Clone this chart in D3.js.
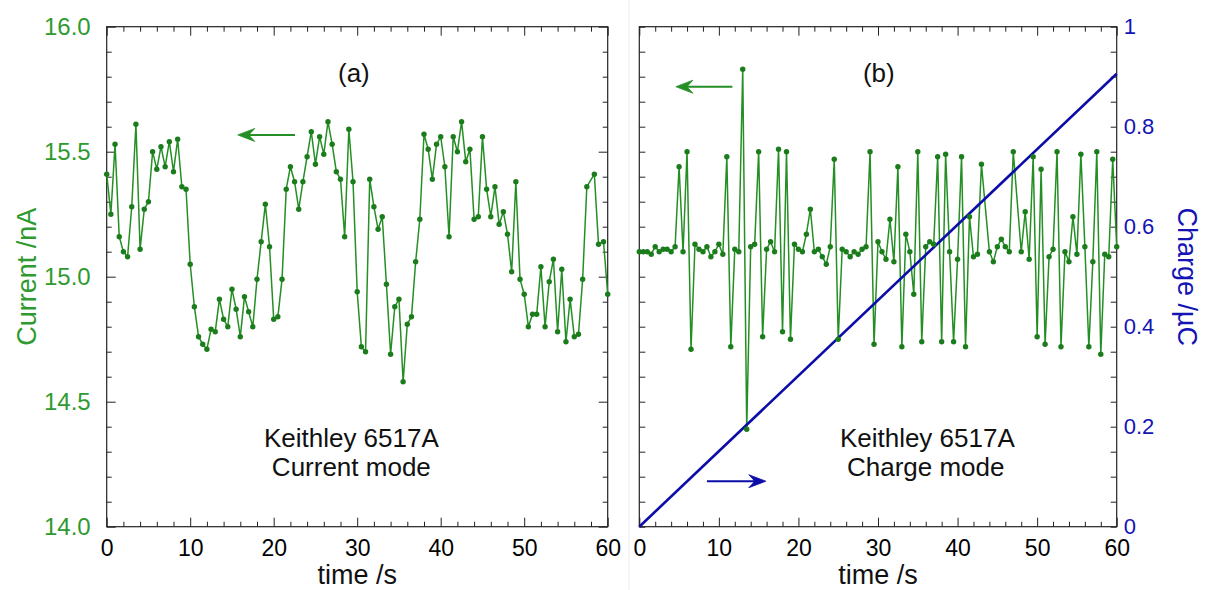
<!DOCTYPE html>
<html><head><meta charset="utf-8">
<script src="https://cdn.jsdelivr.net/npm/d3@7"></script>
<style>
body{margin:0;background:#fff}
svg{display:block}
text{font-family:"Liberation Sans",Arial,Helvetica,sans-serif}
</style>
</head><body>
<svg id="c" width="1207" height="590"></svg>
<script>
// ---------- data ----------
const timeA = [
 0,0.5,1,1.5,2,2.5,3,3.5,4,4.5,5,5.5,6,6.5,7,7.5,8,8.5,9,9.5,
 10,10.5,11,11.5,12,12.5,13,13.5,14,14.5,15,15.5,16,16.5,17,17.5,18,18.5,19,19.5,
 20,20.5,21,21.5,22,22.5,23,23.5,24,24.5,25,25.5,26,26.5,27,27.5,28,28.5,29,29.5,
 30,30.5,31,31.5,32,32.5,33,33.5,34,34.5,35,35.5,36,36.5,37,37.5,38,38.5,39,39.5,
 40,40.5,41,41.5,42,42.5,43,43.5,44,44.5,45,45.5,46,46.5,47,47.5,48,48.5,49,49.5,
 50,50.5,51,51.5,52,52.5,53,53.5,54,54.5,55,55.5,56,56.5,57,57.5,58.4,58.9,59.5,60];
const currentA = [
 15.41,15.25,15.53,15.16,15.10,15.08,15.28,15.61,15.11,15.27,15.30,15.50,15.43,15.52,15.44,15.54,15.42,15.55,15.36,15.35,
 15.05,14.88,14.76,14.73,14.71,14.79,14.78,14.91,14.83,14.80,14.95,14.87,14.76,14.92,14.86,14.80,14.99,15.14,15.29,15.12,
 14.83,14.84,14.99,15.35,15.44,15.38,15.27,15.38,15.48,15.58,15.45,15.56,15.49,15.62,15.53,15.42,15.39,15.16,15.59,15.38,
 14.94,14.72,14.70,15.39,15.28,15.19,15.24,14.97,14.69,14.88,14.91,14.58,14.81,14.84,15.06,15.23,15.57,15.51,15.39,15.53,
 15.56,15.44,15.16,15.56,15.50,15.62,15.46,15.51,15.23,15.24,15.56,15.35,15.24,15.36,15.21,15.26,15.17,15.02,15.38,14.99,
 14.93,14.80,14.85,14.85,15.04,14.80,14.98,15.07,14.78,15.03,14.74,14.91,14.76,14.77,14.99,15.36,15.41,15.13,15.14,14.93];

const timeB = [
 0,0.5,1,1.5,2,2.5,3,3.5,4,4.5,5,5.5,6,6.5,7,7.5,8,8.5,9,9.5,
 10,10.5,11,11.5,12,12.5,13,13.5,14,14.5,15,15.5,16,16.5,17,17.5,18,18.5,19,19.5,
 20,20.5,21,21.5,22,22.5,23,23.5,24,24.5,25,25.5,26,26.5,27,27.5,28,28.5,29,29.5,
 30,30.5,31,31.5,32,32.5,33,33.5,34,34.5,35,35.5,36,36.5,37,37.5,38,38.5,39,39.5,
 40,40.5,41,41.5,42,42.5,43,44,44.5,45,45.5,46,46.5,47,48,48.5,49,49.5,
 50,50.5,51,51.5,52,52.5,53,53.5,54,54.5,55,55.5,56,56.5,57,57.5,58,58.5,59,59.5,60];
const currentB = [
 15.10,15.10,15.10,15.09,15.12,15.10,15.11,15.11,15.10,15.12,15.44,15.10,15.50,14.71,15.13,15.11,15.10,15.12,15.08,15.10,
 15.13,15.09,15.48,14.72,15.11,15.10,15.83,14.39,15.12,15.13,15.50,14.76,15.11,15.14,15.10,15.51,14.78,15.50,14.75,15.13,
 15.11,15.10,15.17,15.27,15.10,15.11,15.08,15.05,15.12,15.47,14.75,15.11,15.10,15.08,15.10,15.09,15.11,15.12,15.50,14.73,
 15.14,15.10,15.07,15.23,15.06,15.44,14.72,15.17,15.10,14.93,15.50,14.74,15.12,15.14,15.13,15.48,14.74,15.49,15.10,14.74,
 15.07,15.48,14.72,15.24,15.08,15.09,15.45,15.10,15.06,15.12,15.15,15.12,15.10,15.50,15.10,15.26,15.07,15.48,
 14.76,15.43,14.73,15.08,15.11,15.50,14.72,15.10,15.06,15.24,15.09,15.49,15.12,14.72,15.06,15.50,14.69,15.09,15.08,15.47,15.12];

const chargeTime = [0, 60];
const chargeB = [0, 0.906];

const xMajorTicks = [0,10,20,30,40,50,60];
const xMinorTicks = [2,4,6,8,12,14,16,18,22,24,26,28,32,34,36,38,42,44,46,48,52,54,56,58];
const currentTickLabels = [14.0,14.5,15.0,15.5,16.0];
const currentMinorTicks = [14.1,14.2,14.3,14.4,14.6,14.7,14.8,14.9,15.1,15.2,15.3,15.4,15.6,15.7,15.8,15.9];
const chargeTickLabels = [0,0.2,0.4,0.6,0.8,1];
const chargeMinorTicks = [0.05,0.1,0.15,0.25,0.3,0.35,0.45,0.5,0.55,0.65,0.7,0.75,0.85,0.9,0.95];

// ---------- layout ----------
const GREEN = "#248f24", GREEN_DOT = "#1b7c1b", GREEN_TXT = "#2f9a2f";
const BLUE = "#0c0ca8", BLUE_TXT = "#1414b4";
const AX = "#222";
const yTop = 26.7, yBot = 526.7;
const svg = d3.select("#c");

svg.append("line").attr("x1",629).attr("x2",629).attr("y1",0).attr("y2",590)
   .attr("stroke","#ececec").attr("stroke-width",1);

const xA = d3.scaleLinear().domain([0,60]).range([106.7,607.7]);
const xB = d3.scaleLinear().domain([0,60]).range([639.3,1116.7]);
const yI = d3.scaleLinear().domain([14,16]).range([yBot,yTop]);
const yQ = d3.scaleLinear().domain([0,1]).range([yBot,yTop]);

function styleAxis(g, color, size){
  g.select(".domain").remove();
  g.selectAll(".tick line").attr("stroke",AX).attr("stroke-width",1);
  g.selectAll(".tick text").attr("fill",color).style("font-size",size+"px")
   .style("font-family",'"Liberation Sans",Arial,sans-serif');
}

function frame(x, opts){
  const [x0,x1] = x.range();
  const g = svg.append("g");
  g.append("g").attr("transform",`translate(0,${yBot})`)
    .call(d3.axisBottom(x).tickValues(xMinorTicks).tickSize(-5).tickFormat(""))
    .call(s=>styleAxis(s,"#000",23));
  g.append("g").attr("transform",`translate(0,${yBot})`)
    .call(d3.axisBottom(x).tickValues(xMajorTicks).tickSize(-9).tickPadding(13).tickFormat(d3.format("d")))
    .call(s=>styleAxis(s,"#000",23));
  g.append("g").attr("transform",`translate(0,${yTop})`)
    .call(d3.axisTop(x).tickValues(xMinorTicks).tickSize(-5).tickFormat(""))
    .call(s=>styleAxis(s,"#000",23));
  g.append("g").attr("transform",`translate(0,${yTop})`)
    .call(d3.axisTop(x).tickValues(xMajorTicks).tickSize(-9).tickFormat(""))
    .call(s=>styleAxis(s,"#000",23));
  if (opts.leftLabels){
    g.append("g").attr("transform",`translate(${x0},0)`)
      .call(d3.axisLeft(yI).tickValues(currentMinorTicks).tickSize(-5).tickFormat(""))
      .call(s=>styleAxis(s,GREEN_TXT,24));
    g.append("g").attr("transform",`translate(${x0},0)`)
      .call(d3.axisLeft(yI).tickValues(currentTickLabels).tickSize(-9).tickPadding(16).tickFormat(d3.format(".1f")))
      .call(s=>styleAxis(s,GREEN_TXT,24));
  } else {
    g.append("g").attr("transform",`translate(${x0},0)`)
      .call(d3.axisLeft(yI).tickValues(currentMinorTicks.concat(currentTickLabels)).tickSize(-6).tickFormat(""))
      .call(s=>styleAxis(s,GREEN_TXT,24));
  }
  if (opts.charge){
    g.append("g").attr("transform",`translate(${x1},0)`)
      .call(d3.axisRight(yQ).tickValues(chargeMinorTicks.concat(chargeTickLabels)).tickSize(-6).tickPadding(7)
        .tickFormat(d => chargeTickLabels.includes(d) ? (d===0||d===1 ? d3.format("d")(d) : d3.format(".1f")(d)) : ""))
      .call(s=>styleAxis(s,BLUE_TXT,22));
  } else {
    g.append("g").attr("transform",`translate(${x1},0)`)
      .call(d3.axisRight(yI).tickValues(currentMinorTicks).tickSize(-5).tickFormat(""))
      .call(s=>styleAxis(s,"#000",23));
    g.append("g").attr("transform",`translate(${x1},0)`)
      .call(d3.axisRight(yI).tickValues(currentTickLabels).tickSize(-9).tickFormat(""))
      .call(s=>styleAxis(s,"#000",23));
  }
  g.append("rect").attr("x",x0).attr("y",yTop).attr("width",x1-x0).attr("height",yBot-yTop)
    .attr("fill","none").attr("stroke",AX).attr("stroke-width",1.2);
}

function arrow(x1, x2, y, color){
  const dir = x2 > x1 ? -1 : 1;
  svg.append("line").attr("x1",x1).attr("x2",x2 + dir*6).attr("y1",y).attr("y2",y)
    .attr("stroke",color).attr("stroke-width",2);
  svg.append("path")
    .attr("d",`M${x2},${y} L${x2+dir*17},${y-6.5} L${x2+dir*11},${y} L${x2+dir*17},${y+6.5} Z`)
    .attr("fill",color).attr("stroke",color).attr("stroke-width",0.8).attr("stroke-linejoin","miter");
}

function txt(x, y, s, size, color, anchor, transform){
  const t = svg.append("text").attr("x",x).attr("y",y).text(s)
    .attr("fill",color).attr("text-anchor",anchor||"middle").style("font-size",size+"px");
  if (transform) t.attr("transform",transform);
  return t;
}

// ---------- panel (a) ----------
frame(xA,{leftLabels:true, charge:false});
const ptsA = timeA.map((t,i)=>[t,currentA[i]]);
svg.append("path").datum(ptsA)
  .attr("d", d3.line().x(d=>xA(d[0])).y(d=>yI(d[1])))
  .attr("fill","none").attr("stroke",GREEN).attr("stroke-width",1.5);
svg.append("g").selectAll("circle").data(ptsA).join("circle")
  .attr("cx",d=>xA(d[0])).attr("cy",d=>yI(d[1])).attr("r",2.7).attr("fill",GREEN_DOT);

arrow(xA(22.55), xA(15.7), yI(15.567), GREEN);
txt(xA(29.6), 82, "(a)", 26, "#111");
txt(xA(29.3), 447, "Keithley 6517A", 26, "#111");
txt(xA(29.3), 476, "Current mode", 26, "#111");
txt((xA.range()[0]+xA.range()[1])/2, 584, "time /s", 27, "#111");
txt(0, 0, "Current /nA", 27, GREEN_TXT, "middle", `translate(36,${(yTop+yBot)/2}) rotate(-90)`);

// ---------- panel (b) ----------
frame(xB,{leftLabels:false, charge:true});
const ptsB = timeB.map((t,i)=>[t,currentB[i]]);
svg.append("path").datum(ptsB)
  .attr("d", d3.line().x(d=>xB(d[0])).y(d=>yI(d[1])))
  .attr("fill","none").attr("stroke",GREEN).attr("stroke-width",1.5);
const ptsQ = chargeTime.map((t,i)=>[t,chargeB[i]]);
svg.append("path").datum(ptsQ)
  .attr("d", d3.line().x(d=>xB(d[0])).y(d=>yQ(d[1])))
  .attr("fill","none").attr("stroke",BLUE).attr("stroke-width",2.6);
svg.append("g").selectAll("circle").data(ptsB).join("circle")
  .attr("cx",d=>xB(d[0])).attr("cy",d=>yI(d[1])).attr("r",2.7).attr("fill",GREEN_DOT);

arrow(xB(11.7), xB(4.6), yI(15.76), GREEN);
arrow(xB(8.5), xB(15.9), yQ(0.091), BLUE);
txt(xB(30.1), 82, "(b)", 26, "#111");
txt(xB(36.2), 447, "Keithley 6517A", 26, "#111");
txt(xB(36.0), 476, "Charge mode", 26, "#111");
txt((xB.range()[0]+xB.range()[1])/2, 584, "time /s", 27, "#111");
txt(0, 0, "Charge /\u00B5C", 27, BLUE_TXT, "middle", `translate(1178,${(yTop+yBot)/2}) rotate(90)`);
</script>
</body></html>
